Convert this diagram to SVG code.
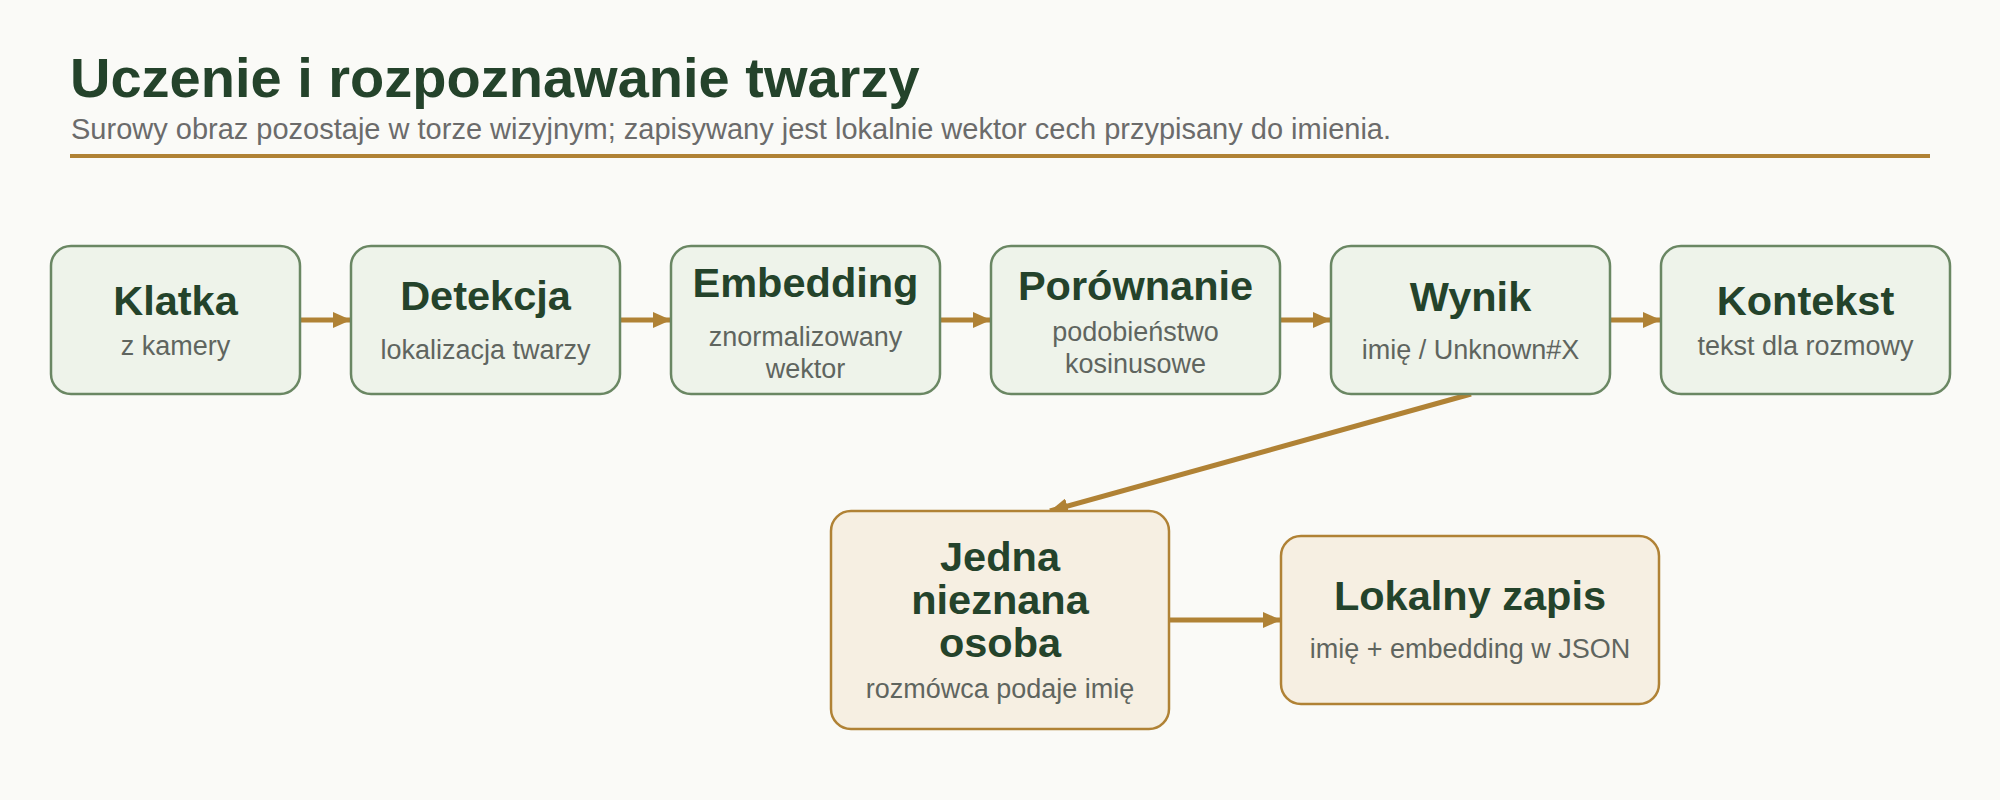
<svg xmlns="http://www.w3.org/2000/svg" width="2000" height="800" viewBox="0 0 2000 800">
<defs>
<style>
.bg{fill:#fafaf7}
.title{font-family:"Liberation Sans",Arial,sans-serif;font-weight:bold;font-size:56px;fill:#24432b}
.subtitle{font-family:"Liberation Sans",Arial,sans-serif;font-size:29px;fill:#6b6b6b}
.rule{stroke:#b08235;stroke-width:4}
.g rect{fill:#eef3ea;stroke:#6a8763;stroke-width:2.5}
.c rect{fill:#f6efe2;stroke:#b08235;stroke-width:2.5}
.nt{font-family:"Liberation Sans",Arial,sans-serif;font-weight:bold;font-size:41.5px;fill:#24432b;text-anchor:middle}
.ns{font-family:"Liberation Sans",Arial,sans-serif;font-size:27px;fill:#5f655f;text-anchor:middle}
.edge{stroke:#b08235;stroke-width:5;fill:none;marker-end:url(#arr)}
</style>
<marker id="arr" markerUnits="userSpaceOnUse" markerWidth="18" markerHeight="16" refX="18" refY="8" orient="auto">
<path d="M0,0 L18,8 L0,16 z" fill="#b08235"/>
</marker>
</defs>
<rect class="bg" x="0" y="0" width="2000" height="800"/>
<g id="header">
<text class="title" x="70" y="97">Uczenie i rozpoznawanie twarzy</text>
<text class="subtitle" x="71" y="139">Surowy obraz pozostaje w torze wizyjnym; zapisywany jest lokalnie wektor cech przypisany do imienia.</text>
<line class="rule" x1="70" y1="156" x2="1930" y2="156"/>
</g>
<g id="connectors">
<line class="edge" x1="300" y1="320" x2="351" y2="320"/>
<line class="edge" x1="620" y1="320" x2="671" y2="320"/>
<line class="edge" x1="940" y1="320" x2="991" y2="320"/>
<line class="edge" x1="1280" y1="320" x2="1331" y2="320"/>
<line class="edge" x1="1610" y1="320" x2="1661" y2="320"/>
<line class="edge" x1="1471" y1="394" x2="1050" y2="511"/>
<line class="edge" x1="1169" y1="620" x2="1281" y2="620"/>
</g>
<g id="klatka" class="g">
<rect x="51" y="246" width="249" height="148" rx="20"/>
<text class="nt" x="175.5" y="315">Klatka</text>
<text class="ns" x="175.5" y="355">z kamery</text>
</g>
<g id="detekcja" class="g">
<rect x="351" y="246" width="269" height="148" rx="20"/>
<text class="nt" x="485.5" y="310">Detekcja</text>
<text class="ns" x="485.5" y="359">lokalizacja twarzy</text>
</g>
<g id="embedding" class="g">
<rect x="671" y="246" width="269" height="148" rx="20"/>
<text class="nt" x="805.5" y="297">Embedding</text>
<text class="ns" x="805.5" y="346">znormalizowany</text>
<text class="ns" x="805.5" y="378">wektor</text>
</g>
<g id="porownanie" class="g">
<rect x="991" y="246" width="289" height="148" rx="20"/>
<text class="nt" x="1135.5" y="300">Porównanie</text>
<text class="ns" x="1135.5" y="341">podobieństwo</text>
<text class="ns" x="1135.5" y="373">kosinusowe</text>
</g>
<g id="wynik" class="g">
<rect x="1331" y="246" width="279" height="148" rx="20"/>
<text class="nt" x="1470.5" y="311">Wynik</text>
<text class="ns" x="1470.5" y="359">imię / Unknown#X</text>
</g>
<g id="kontekst" class="g">
<rect x="1661" y="246" width="289" height="148" rx="20"/>
<text class="nt" x="1805.5" y="315">Kontekst</text>
<text class="ns" x="1805.5" y="355">tekst dla rozmowy</text>
</g>
<g id="nieznana" class="c">
<rect x="831" y="511" width="338" height="218" rx="20"/>
<text class="nt" x="1000" y="571">Jedna</text>
<text class="nt" x="1000" y="614">nieznana</text>
<text class="nt" x="1000" y="657">osoba</text>
<text class="ns" x="1000" y="698">rozmówca podaje imię</text>
</g>
<g id="zapis" class="c">
<rect x="1281" y="536" width="378" height="168" rx="20"/>
<text class="nt" x="1470" y="610">Lokalny zapis</text>
<text class="ns" x="1470" y="658">imię + embedding w JSON</text>
</g>
</svg>
